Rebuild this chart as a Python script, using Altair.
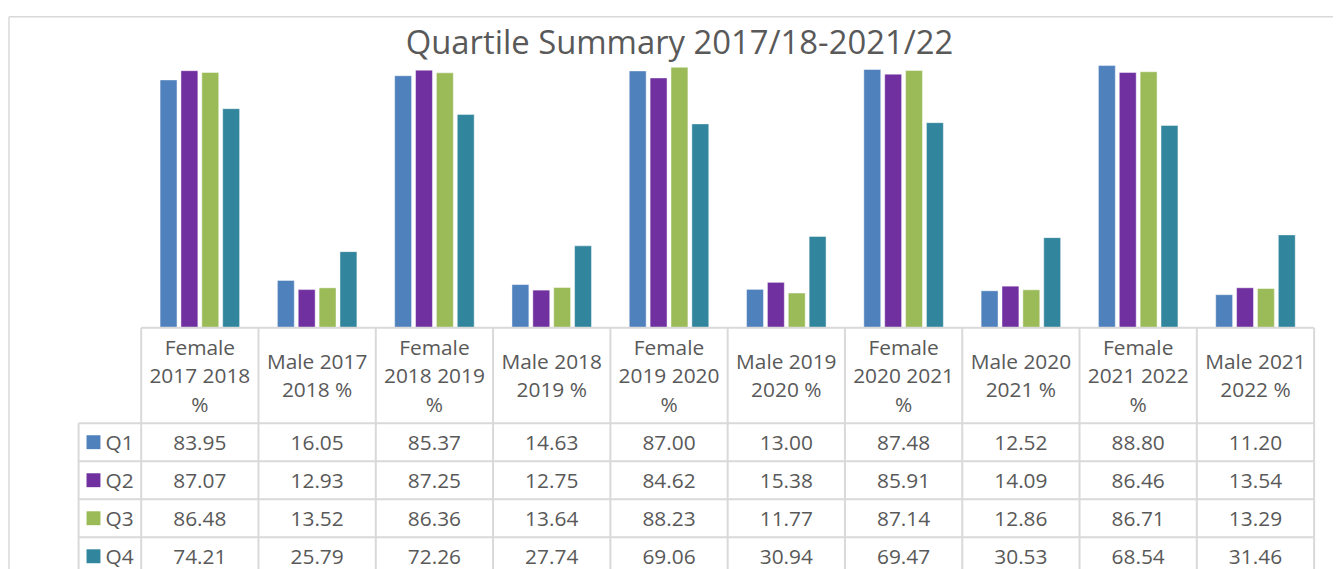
import altair as alt
import pandas as pd

categories = ["Female 2017 2018 %", "Male 2017 2018 %", "Female 2018 2019 %", "Male 2018 2019 %",
              "Female 2019 2020 %", "Male 2019 2020 %", "Female 2020 2021 %", "Male 2020 2021 %",
              "Female 2021 2022 %", "Male 2021 2022 %"]
header_labels = ["Female\n2017 2018\n%", "Male 2017\n2018 %", "Female\n2018 2019\n%", "Male 2018\n2019 %",
                 "Female\n2019 2020\n%", "Male 2019\n2020 %", "Female\n2020 2021\n%", "Male 2020\n2021 %",
                 "Female\n2021 2022\n%", "Male 2021\n2022 %"]
series = ["Q1", "Q2", "Q3", "Q4"]
q1 = [83.95, 16.05, 85.37, 14.63, 87.00, 13.00, 87.48, 12.52, 88.80, 11.20]
q2 = [87.07, 12.93, 87.25, 12.75, 84.62, 15.38, 85.91, 14.09, 86.46, 13.54]
q3 = [86.48, 13.52, 86.36, 13.64, 88.23, 11.77, 87.14, 12.86, 86.71, 13.29]
q4 = [74.21, 25.79, 72.26, 27.74, 69.06, 30.94, 69.47, 30.53, 68.54, 31.46]
colors = ["#4F81BD", "#7030A0", "#9BBB59", "#31859C"]
title_text = "Quartile Summary 2017/18-2021/22"

rows = []
for s, vals in zip(series, [q1, q2, q3, q4]):
    for c, v in zip(categories, vals):
        rows.append({"cat": c, "series": s, "value": v, "label": f"{v:.2f}"})
df = pd.DataFrame(rows)
hdr = pd.DataFrame({"cat": categories, "hdr": header_labels})
hdr["n"] = hdr["hdr"].str.count("\n") + 1
hdr3 = hdr[hdr["n"] == 3]
hdr2 = hdr[hdr["n"] == 2]
ser = pd.DataFrame({"series": series})
ttl = pd.DataFrame({"t": [title_text]})

FONT = "Open Sans"
TXT = "#595959"
GRID = "#D9D9D9"
W, H = 1180, 297

xs = alt.Scale(domain=categories, paddingInner=0, paddingOuter=0)
row_scale = alt.Scale(domain=series, range=[393, 546], paddingInner=0, paddingOuter=0)
cscale = alt.Scale(domain=series, range=colors)

frame_v = alt.Chart(ttl).mark_rule(color=GRID, strokeWidth=1.5).encode(
    x=alt.value(-133), y=alt.value(-16), y2=alt.value(620))
frame_h = alt.Chart(ttl).mark_rule(color=GRID, strokeWidth=1.5).encode(
    x=alt.value(-133), x2=alt.value(1260), y=alt.value(-16))

title = alt.Chart(ttl).mark_text(font=FONT, fontSize=33, color=TXT, align="center",
                                 baseline="alphabetic").encode(
    x=alt.value(541.5), y=alt.value(22), text="t:N")

bars = alt.Chart(df).mark_bar(stroke="white", strokeWidth=1, strokeOpacity=0.45).encode(
    x=alt.X("cat:N", scale=xs, axis=None),
    xOffset=alt.XOffset("series:N", scale=alt.Scale(domain=series, paddingInner=0.19, paddingOuter=0.905)),
    y=alt.Y("value:Q", scale=alt.Scale(domain=[0, 100]), axis=None),
    color=alt.Color("series:N", scale=cscale, legend=None),
)

col_lines = alt.Chart(hdr).mark_rule(color=GRID, strokeWidth=2).encode(
    x=alt.X("cat:N", scale=xs, axis=None, bandPosition=0),
    y=alt.value(297), y2=alt.value(620))
right_line = alt.Chart(ttl).mark_rule(color=GRID, strokeWidth=2).encode(
    x=alt.value(W), y=alt.value(297), y2=alt.value(620))
label_col_line = alt.Chart(ttl).mark_rule(color=GRID, strokeWidth=2).encode(
    x=alt.value(-63), y=alt.value(393), y2=alt.value(620))
hdr_top = alt.Chart(ttl).mark_rule(color=GRID, strokeWidth=2).encode(
    x=alt.value(0), x2=alt.value(W), y=alt.value(297))
row_lines = alt.Chart(ser).mark_rule(color=GRID, strokeWidth=2).encode(
    x=alt.value(-63), x2=alt.value(W),
    y=alt.Y("series:N", scale=row_scale, axis=None, bandPosition=0))
bottom_line = alt.Chart(ttl).mark_rule(color=GRID, strokeWidth=2).encode(
    x=alt.value(-63), x2=alt.value(W), y=alt.value(546))

header3 = alt.Chart(hdr3).mark_text(font=FONT, fontSize=21, color=TXT, lineBreak="\n",
                                    lineHeight=29, baseline="middle").encode(
    x=alt.X("cat:N", scale=xs, axis=None), y=alt.value(318), text="hdr:N")
header2 = alt.Chart(hdr2).mark_text(font=FONT, fontSize=21, color=TXT, lineBreak="\n",
                                    lineHeight=29, baseline="middle").encode(
    x=alt.X("cat:N", scale=xs, axis=None), y=alt.value(332), text="hdr:N")

cells = alt.Chart(df).mark_text(font=FONT, fontSize=21, color=TXT, baseline="middle", dy=2).encode(
    x=alt.X("cat:N", scale=xs, axis=None),
    y=alt.Y("series:N", scale=row_scale, axis=None),
    text="label:N")

swatch = alt.Chart(ser).mark_square(size=196, opacity=1).encode(
    x=alt.value(-48),
    y=alt.Y("series:N", scale=row_scale, axis=None),
    color=alt.Color("series:N", scale=cscale, legend=None))
row_lab = alt.Chart(ser).mark_text(font=FONT, fontSize=21, color=TXT, align="left",
                                   baseline="middle", dy=2).encode(
    x=alt.value(-36),
    y=alt.Y("series:N", scale=row_scale, axis=None),
    text="series:N")

chart = alt.layer(
    frame_v, frame_h, bars, col_lines, right_line, label_col_line, hdr_top, row_lines,
    bottom_line, title, header3, header2, cells, swatch, row_lab
).resolve_scale(y="independent").properties(
    width=W, height=H,
    autosize=alt.AutoSizeParams(type="none"),
    padding={"left": 134, "top": 23, "right": 19, "bottom": 241},
).configure_view(stroke=None)

chart.save("out.html", embed_options={"renderer": "svg", "actions": False})
